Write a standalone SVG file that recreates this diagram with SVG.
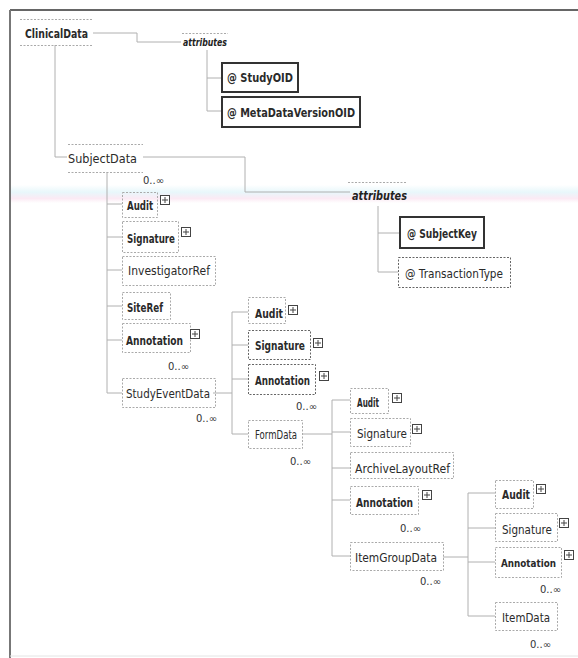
<svg xmlns="http://www.w3.org/2000/svg" xmlns:xlink="http://www.w3.org/1999/xlink" width="578" height="658" viewBox="0 0 578 658">
<style>
.t{font-family:"DejaVu Sans","Liberation Sans",sans-serif;font-size:13px;fill:#2a2a2a}
.b{font-weight:bold}
.m{font-family:"DejaVu Sans","Liberation Sans",sans-serif;font-size:10px;fill:#333}
.att{font-family:"DejaVu Sans","Liberation Sans",sans-serif;font-weight:bold;font-style:italic;fill:#222}
.opt{fill:none;stroke:#aaa;stroke-width:1;stroke-dasharray:2 1.5}
.req{fill:#fff;stroke:#333;stroke-width:2}
.optd{fill:#fff;stroke:#666;stroke-width:1;stroke-dasharray:2 1.5}
.c{fill:none;stroke:#b0b0b0;stroke-width:1}
.pl rect{fill:#fff;stroke:#444;stroke-width:1}
.pl path{stroke:#444;stroke-width:1}
</style>
<defs>
<g id="pl" class="pl"><rect x="0.5" y="0.5" width="9" height="9"/><path d="M5 2V8M2 5H8"/></g>
<linearGradient id="band" x1="0" y1="0" x2="0" y2="1">
<stop offset="0" stop-color="#e6f6fa" stop-opacity="0"/>
<stop offset="0.4" stop-color="#e8f7fb"/>
<stop offset="0.75" stop-color="#fbeaf4"/>
<stop offset="1" stop-color="#fbeaf4" stop-opacity="0"/>
</linearGradient>
</defs>
<rect x="0" y="0" width="578" height="658" fill="#fff"/>
<rect x="10" y="185" width="568" height="18" fill="url(#band)"/>
<g id="frame">
<line x1="10" y1="10" x2="578" y2="10" stroke="#666" stroke-width="2"/>
<line x1="10" y1="10" x2="10" y2="658" stroke="#777" stroke-width="2"/>
<line x1="10" y1="656" x2="578" y2="656" stroke="#e4e4e4" stroke-width="1"/>
</g>
<g id="connectors">
<path class="c" d="M93,33H137V42H181"/>
<path class="c" d="M207,50V111M207,78H222M207,111H222"/>
<path class="c" d="M55,45V157H67"/>
<path class="c" d="M143,157H245V192H350"/>
<path class="c" d="M378,206V272M378,233H400M378,272H398"/>
<path class="c" d="M107,172V393M107,204H122M107,237H122M107,270H122M107,306H122M107,340H122M107,393H122"/>
<path class="c" d="M213,393H232M232,312V434M232,312H248M232,345H248M232,379H248M232,434H248"/>
<path class="c" d="M302,434H332M332,400V556M332,400H350M332,432H350M332,468H350M332,500H350M332,556H350"/>
<path class="c" d="M443,557H468M468,493V616M468,493H495M468,528H495M468,562H495M468,616H495"/>
</g>
<g id="ClinicalData">
<line class="opt" x1="20" y1="19.5" x2="92" y2="19.5"/>
<line class="opt" x1="20" y1="45.5" x2="92" y2="45.5"/>
<text class="t b" x="25" y="38" textLength="63" lengthAdjust="spacingAndGlyphs">ClinicalData</text>
</g>
<g id="attributes1">
<line class="opt" x1="182" y1="33.5" x2="228" y2="33.5"/>
<text class="att" x="183" y="46" font-size="10" textLength="44" lengthAdjust="spacingAndGlyphs">attributes</text>
</g>
<g id="StudyOID">
<rect class="req" x="222" y="63" width="76" height="29"/>
<text class="t b" x="227" y="82" textLength="66" lengthAdjust="spacingAndGlyphs">@ StudyOID</text>
</g>
<g id="MetaDataVersionOID">
<rect class="req" x="222" y="97" width="138" height="30"/>
<text class="t b" x="227" y="117" textLength="128" lengthAdjust="spacingAndGlyphs">@ MetaDataVersionOID</text>
</g>
<g id="SubjectData">
<line class="opt" x1="68" y1="144.5" x2="143" y2="144.5"/>
<line class="opt" x1="68" y1="172.5" x2="143" y2="172.5"/>
<text class="t" x="68" y="163" textLength="69" lengthAdjust="spacingAndGlyphs">SubjectData</text>
<text class="m" x="143" y="184">0..∞</text>
</g>
<g id="attributes2">
<line class="opt" x1="348" y1="182.5" x2="407" y2="182.5"/>
<text class="att" x="352" y="200" font-size="12" textLength="55" lengthAdjust="spacingAndGlyphs">attributes</text>
</g>
<g id="SubjectKey">
<rect class="req" x="400" y="217" width="84" height="31"/>
<text class="t b" x="407" y="238" textLength="70" lengthAdjust="spacingAndGlyphs">@ SubjectKey</text>
</g>
<g id="TransactionType">
<rect class="optd" x="398.5" y="257.5" width="112" height="30"/>
<text class="t" x="405" y="278" textLength="98" lengthAdjust="spacingAndGlyphs">@ TransactionType</text>
</g>
<g id="Audit1">
<rect class="opt" x="122.5" y="192.5" width="35" height="25"/>
<text class="t b" x="127" y="210" textLength="26" lengthAdjust="spacingAndGlyphs">Audit</text>
<use xlink:href="#pl" x="160" y="195"/>
</g>
<g id="Signature1">
<rect class="opt" x="122.5" y="221.5" width="56" height="31"/>
<text class="t b" x="127" y="243" textLength="48" lengthAdjust="spacingAndGlyphs">Signature</text>
<use xlink:href="#pl" x="181" y="227"/>
</g>
<g id="InvestigatorRef">
<rect class="opt" x="122.5" y="256.5" width="93" height="29"/>
<text class="t" x="128" y="275" textLength="82" lengthAdjust="spacingAndGlyphs">InvestigatorRef</text>
</g>
<g id="SiteRef">
<rect class="opt" x="122.5" y="292.5" width="48" height="27"/>
<text class="t b" x="127" y="312" textLength="36" lengthAdjust="spacingAndGlyphs">SiteRef</text>
</g>
<g id="Annotation1">
<rect class="opt" x="122.5" y="323.5" width="68" height="29"/>
<text class="t b" x="126" y="345" textLength="57" lengthAdjust="spacingAndGlyphs">Annotation</text>
<use xlink:href="#pl" x="190" y="329"/>
<text class="m" x="168" y="370">0..∞</text>
</g>
<g id="StudyEventData">
<rect class="opt" x="122.5" y="378.5" width="93" height="29"/>
<text class="t" x="126" y="398" textLength="84" lengthAdjust="spacingAndGlyphs">StudyEventData</text>
<text class="m" x="196" y="422">0..∞</text>
</g>
<g id="Audit2">
<rect class="opt" x="248.5" y="297.5" width="37" height="26"/>
<text class="t b" x="255" y="318" textLength="28" lengthAdjust="spacingAndGlyphs">Audit</text>
<use xlink:href="#pl" x="288" y="305"/>
</g>
<g id="Signature2">
<rect class="optd" x="248.5" y="330.5" width="62" height="29"/>
<text class="t b" x="255" y="350" textLength="50" lengthAdjust="spacingAndGlyphs">Signature</text>
<use xlink:href="#pl" x="313" y="338"/>
</g>
<g id="Annotation2">
<rect class="optd" x="248.5" y="364.5" width="67" height="30"/>
<text class="t b" x="255" y="385" textLength="55" lengthAdjust="spacingAndGlyphs">Annotation</text>
<use xlink:href="#pl" x="319" y="371"/>
<text class="m" x="296" y="410">0..∞</text>
</g>
<g id="FormData">
<rect class="opt" x="248.5" y="420.5" width="54" height="28"/>
<text class="t" x="255" y="439" textLength="42" lengthAdjust="spacingAndGlyphs">FormData</text>
<text class="m" x="290" y="465">0..∞</text>
</g>
<g id="Audit3">
<rect class="opt" x="350.5" y="388.5" width="38" height="25"/>
<text class="t b" x="357" y="407" textLength="22" lengthAdjust="spacingAndGlyphs">Audit</text>
<use xlink:href="#pl" x="392" y="393"/>
</g>
<g id="Signature3">
<rect class="opt" x="350.5" y="418.5" width="60" height="28"/>
<text class="t" x="357" y="438" textLength="50" lengthAdjust="spacingAndGlyphs">Signature</text>
<use xlink:href="#pl" x="412" y="424"/>
</g>
<g id="ArchiveLayoutRef">
<rect class="opt" x="350.5" y="452.5" width="103" height="26"/>
<text class="t" x="355" y="473" textLength="95" lengthAdjust="spacingAndGlyphs">ArchiveLayoutRef</text>
</g>
<g id="Annotation3">
<rect class="opt" x="350.5" y="486.5" width="68" height="28"/>
<text class="t b" x="356" y="507" textLength="57" lengthAdjust="spacingAndGlyphs">Annotation</text>
<use xlink:href="#pl" x="422" y="490"/>
<text class="m" x="400" y="532">0..∞</text>
</g>
<g id="ItemGroupData">
<rect class="opt" x="350.5" y="542.5" width="93" height="28"/>
<text class="t" x="355" y="562" textLength="82" lengthAdjust="spacingAndGlyphs">ItemGroupData</text>
<text class="m" x="420" y="585">0..∞</text>
</g>
<g id="Audit4">
<rect class="opt" x="495.5" y="480.5" width="38" height="28"/>
<text class="t b" x="502" y="499" textLength="28" lengthAdjust="spacingAndGlyphs">Audit</text>
<use xlink:href="#pl" x="536" y="484"/>
</g>
<g id="Signature4">
<rect class="opt" x="495.5" y="513.5" width="62" height="28"/>
<text class="t" x="502" y="534" textLength="50" lengthAdjust="spacingAndGlyphs">Signature</text>
<use xlink:href="#pl" x="559" y="518"/>
</g>
<g id="Annotation4">
<rect class="opt" x="495.5" y="547.5" width="66" height="30"/>
<text class="t b" x="501" y="567" style="font-size:11px" textLength="55" lengthAdjust="spacingAndGlyphs">Annotation</text>
<use xlink:href="#pl" x="564" y="550"/>
<text class="m" x="540" y="593">0..∞</text>
</g>
<g id="ItemData">
<rect class="opt" x="495.5" y="602.5" width="62" height="28"/>
<text class="t" x="502" y="622" textLength="48" lengthAdjust="spacingAndGlyphs">ItemData</text>
<text class="m" x="530" y="648">0..∞</text>
</g>
</svg>
